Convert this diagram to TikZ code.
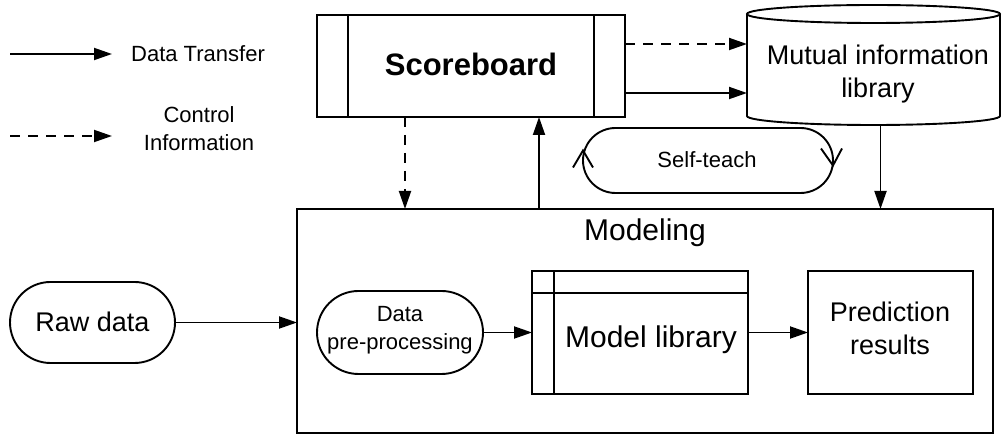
\documentclass[tikz,border=0pt]{standalone}
\usepackage{fontspec}
\setmainfont{Liberation Sans}
\usetikzlibrary{arrows.meta,shapes.misc}
\begin{document}
\begin{tikzpicture}[x=1pt,y=-1pt,
  every node/.style={inner sep=0pt,outer sep=0pt},
  ln/.style={line width=1.9pt},
  arr/.style={ln,-{Triangle[length=18pt,width=12pt]}},
  dsh/.style={dash pattern=on 10pt off 8pt},
  boxn/.style={draw,ln,rectangle},
  pill/.style={draw,ln,rounded rectangle},
  fA/.style={font=\fontsize{22}{28}\selectfont,align=center},
  fB/.style={font=\fontsize{27}{33}\selectfont,align=center},
  fC/.style={font=\fontsize{30}{36}\selectfont,align=center}]
\useasboundingbox (0,0) rectangle (1005,435);
% legend
\coordinate (l1a) at (10,54); \coordinate (l1b) at (112,54);
\coordinate (l2a) at (10,136); \coordinate (l2b) at (112,136);
\draw[arr] (l1a) -- (l1b);
\draw[arr,dsh] (l2a) -- (l2b);
\node[fA] (lt1) at (198,54) {Data Transfer};
\node[fA] (lt2) at (199,129) {Control\\Information};
% scoreboard
\node[boxn,minimum width=308pt,minimum height=102pt] (sb) at (471,66) {};
\node[font=\fontsize{31}{36}\selectfont\bfseries] (sbt) at (471,64) {Scoreboard};
\draw[ln] ([xshift=31pt]sb.north west) -- ([xshift=31pt]sb.south west);
\draw[ln] ([xshift=-31pt]sb.north east) -- ([xshift=-31pt]sb.south east);
% cylinder
\node[minimum width=253pt,minimum height=120pt] (mil) at (873.5,65) {};
\draw[ln,fill=white] (747,14) -- (747,116) arc[start angle=180,end angle=0,x radius=126.5,y radius=9] -- (1000,14);
\draw[ln] (873.5,14) ellipse [x radius=126.5,y radius=9];
\node[fB] (milt) at (878,74) {Mutual information\\library};
% self-teach
\node[pill,minimum width=250pt,minimum height=65pt] (st) at (708,160.5) {};
\node[fA] (stt) at (707,160) {Self-teach};
\draw[ln] ([xshift=-10pt,yshift=-7pt]st.west) -- ([yshift=10pt]st.west) -- ([xshift=10pt,yshift=-7pt]st.west);
\draw[ln] ([xshift=-12pt,yshift=12pt]st.east) -- ([yshift=-5pt]st.east) -- ([xshift=9pt,yshift=12pt]st.east);
% modeling
\node[boxn,minimum width=696pt,minimum height=224pt] (mod) at (645,321) {};
\node[fC] (modt) at (645,233) {Modeling};
\node[pill,minimum width=165pt,minimum height=81pt] (raw) at (92.5,322.5) {};
\node[fB] (rawt) at (92.5,322) {Raw data};
\node[pill,minimum width=166pt,minimum height=83pt] (pp) at (400,332.5) {};
\node[fA] (ppt) at (400,330) {Data\\pre-processing};
\node[boxn,minimum width=216pt,minimum height=123pt] (ml) at (640,332.5) {};
\draw[ln] ([xshift=22pt]ml.north west) -- ([xshift=22pt]ml.south west);
\draw[ln] ([yshift=-22pt]ml.north west) -- ([yshift=-22pt]ml.north east);
\node[fC] (mlt) at (651,340) {Model library};
\node[boxn,minimum width=165pt,minimum height=123pt] (pr) at (890.5,332.5) {};
\node[fB] (prt) at (890,328) {Prediction\\results};
% connectors
\draw[arr,dsh] ([yshift=22pt]sb.east) -- ([yshift=22pt]sb.east -| mil.west);
\draw[arr] ([yshift=-27pt]sb.east) -- ([yshift=-27pt]sb.east -| mil.west);
\draw[arr,dsh] ([xshift=-66pt]sb.south) -- ([xshift=-66pt]sb.south |- mod.north);
\draw[arr] ([xshift=68pt]sb.south |- mod.north) -- ([xshift=68pt]sb.south);
\draw[arr] ([xshift=7pt]mil.south) -- ([xshift=7pt]mil.south |- mod.north);
\draw[arr] (raw.east) -- (raw.east -| mod.west);
\draw[arr] (pp.east) -- (pp.east -| ml.west);
\draw[arr] (ml.east) -- (ml.east -| pr.west);
\end{tikzpicture}
\end{document}
